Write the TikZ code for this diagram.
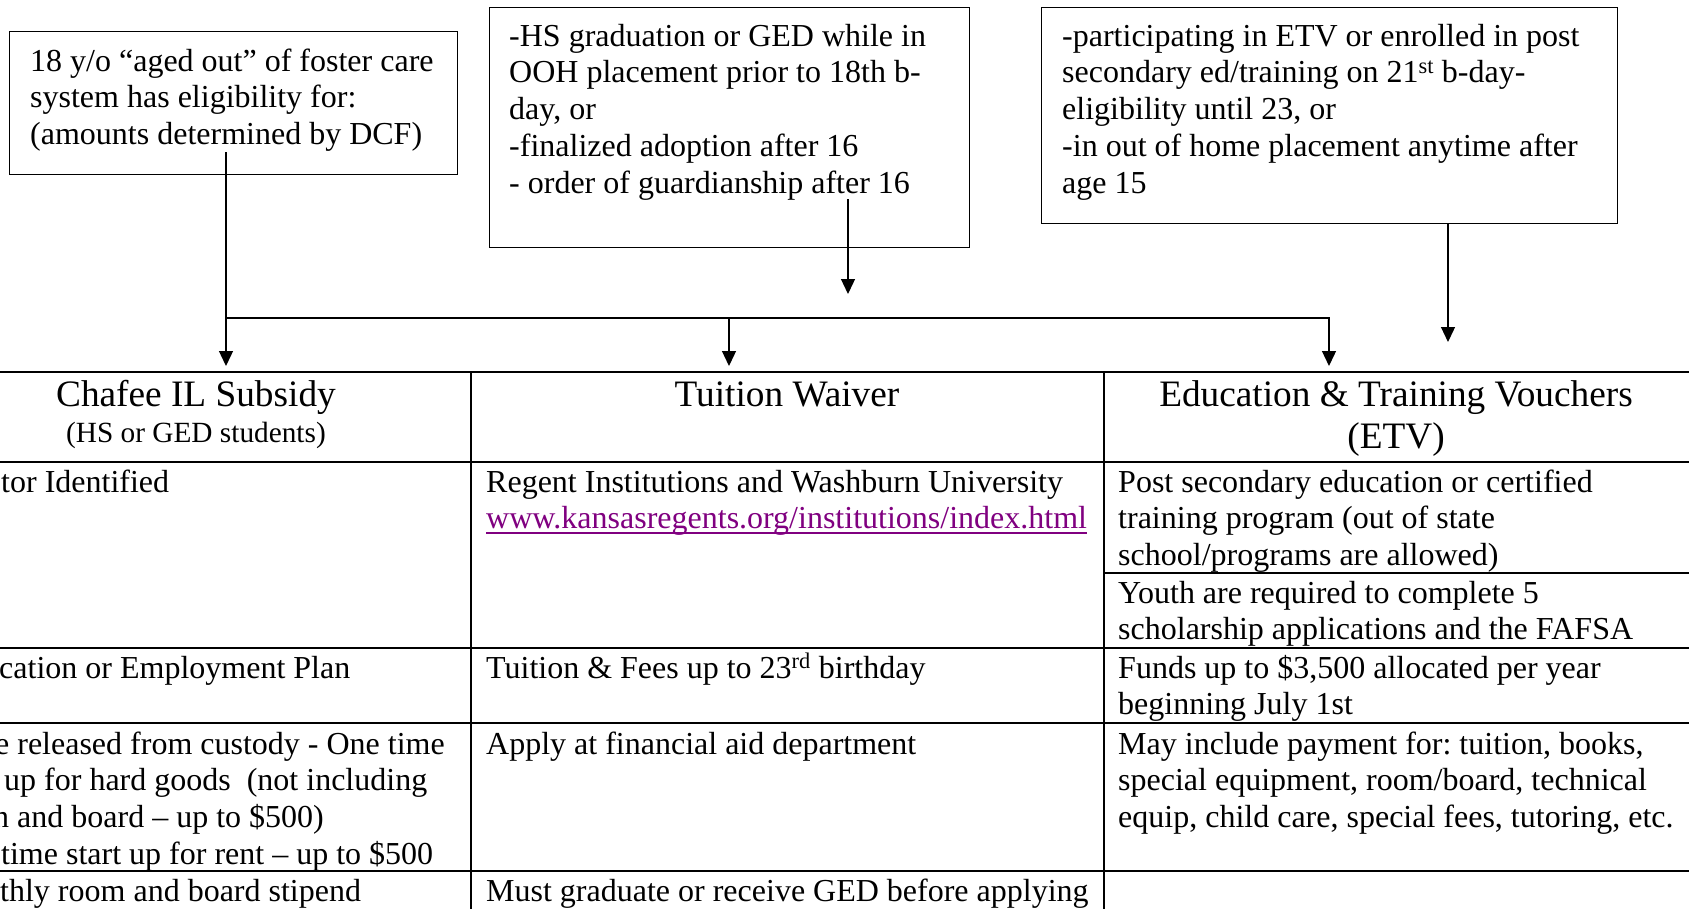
\documentclass[tikz,border=0pt]{standalone}
\usepackage{fontspec}
\setmainfont{Liberation Serif}
\usetikzlibrary{arrows.meta}
\definecolor{linkpurple}{RGB}{128,0,128}
\newcommand{\flowarrow}{-{Triangle[length=15pt,width=14pt]}}
\newcommand{\wordspace}{\spaceskip=.25em\relax\xspaceskip=.25em\relax}
\newcommand{\bodysize}{\fontsize{32}{36.8}\selectfont}
\newcommand{\headsize}{\fontsize{37.3}{42}\selectfont}
\newcommand{\notesize}{\fontsize{29.3}{33.7}\selectfont\wordspace}
\newcommand{\weblink}[1]{\textcolor{linkpurple}{\setbox0=\hbox{#1}\rlap{\rule[-5pt]{\wd0}{2pt}}\box0}}
\tikzset{%
  % Specifications for style of nodes:
            base/.style = {inner sep=0pt, align=left, text width=640pt,
                           anchor=base west, font=\bodysize,
                           execute at begin node=\wordspace},
		boxstyle/.style = {rectangle, draw=black, line width=1.3pt,
                           anchor=north west, inner sep=0pt},
		headstyle/.style = {base, anchor=base, align=center, text width=560pt,
                           font=\headsize},
		rulestyle/.style = {line width=1.7pt},
		arrowstyle/.style = {line width=1.3pt},
}
\begin{document}
\begin{tikzpicture}[x=1pt, y=-1pt]
  \useasboundingbox (0,0) rectangle (1689,908);
  \clip (0,0) rectangle (1689,908);

  % Specification of the eligibility boxes
  \node (elig)	[boxstyle, minimum width=448pt, minimum height=143pt]		at (9,31)		{};
  \node (grad)	[boxstyle, minimum width=480pt, minimum height=240pt]		at (489,7)		{};
  \node (post)	[boxstyle, minimum width=576pt, minimum height=216pt]		at (1041,7)	{};
  \node (elig-text)	[base] at ([shift={(21,40)}]elig.north west)
    {18 y/o “aged out” of foster care\\system has eligibility for:\\(amounts determined by DCF)};
  \node (grad-text)	[base] at ([shift={(20,39)}]grad.north west)
    {-HS graduation or GED while in\\OOH placement prior to 18th b-\\day, or\\-finalized adoption after 16\\- order of guardianship after 16};
  \node (post-text)	[base] at ([shift={(21,39)}]post.north west)
    {-participating in ETV or enrolled in post\\secondary ed/training on 21\textsuperscript{st} b-day-\\eligibility until 23, or\\-in out of home placement anytime after\\age 15};

  % Specification of the table
  \foreach \y in {372,462,648,723,871}
    \draw[rulestyle] (-10,\y) -- (1700,\y);
  \draw[rulestyle] (1104,573) -- (1700,573);
  \foreach \x in {471,1104}
    \draw[rulestyle] (\x,372) -- (\x,920);

  \node (chafee-head)	[headstyle] at (196,406)
    {Chafee IL Subsidy\\[-6pt]{\notesize (HS or GED students)}};
  \node (waiver-head)	[headstyle] at (787,406)	{Tuition Waiver};
  \node (etv-head)		[headstyle] at (1396,406)	{Education \& Training Vouchers\\(ETV)};

  \node (chafee-id)		[base] at (1,492)	{tor Identified};
  \node (chafee-plan)	[base] at (-1,678)	{cation or Employment Plan};
  \node (chafee-startup)	[base] at (0,754)
    {\hspace*{-5pt}e released from custody - One time\\\hspace*{4pt}up for hard goods~ (not including\\\hspace*{-7pt}n and board – up to \$500)\\\hspace*{1pt}time start up for rent – up to \$500};
  \node (chafee-stipend)	[base] at (0,901)	{thly room and board stipend};

  \node (waiver-schools)	[base] at (486,492)
    {Regent Institutions and Washburn University\\\weblink{www.kansasregents.org/institutions/index.html}};
  \node (waiver-fees)	[base] at (486,678)	{Tuition \& Fees up to 23\textsuperscript{rd} birthday};
  \node (waiver-apply)	[base] at (486,754)	{Apply at financial aid department};
  \node (waiver-ged)	[base] at (486,901)	{Must graduate or receive GED before applying};

  \node (etv-program)	[base] at (1118,492)
    {Post secondary education or certified\\training program (out of state\\school/programs are allowed)};
  \node (etv-apps)		[base] at (1118,603)
    {Youth are required to complete 5\\scholarship applications and the FAFSA};
  \node (etv-funds)		[base] at (1118,678)
    {Funds up to \$3,500 allocated per year\\beginning July 1st};
  \node (etv-pay)		[base] at (1118,754)
    {May include payment for: tuition, books,\\special equipment, room/board, technical\\equip, child care, special fees, tutoring, etc.};

  % Specification of lines between boxes and table
  \coordinate (elig-out)	at (226,152);
  \coordinate (fork)		at (226,318);
  \coordinate (chafee-in)	at (226,366);
  \coordinate (waiver-in)	at (729,366);
  \coordinate (etv-in)		at (1329,366);
  \coordinate (grad-out)	at (848,199);
  \coordinate (grad-end)	at (848,294);
  \coordinate (post-end)	at (1448,342);
	\draw[arrowstyle, \flowarrow]	(elig-out) -- 			(chafee-in);
	\draw[arrowstyle, \flowarrow]	(fork) -| 				(etv-in);
	\draw[arrowstyle, \flowarrow]	(fork -| waiver-in) -- 	(waiver-in);
	\draw[arrowstyle, \flowarrow]	(grad-out) -- 			(grad-end);
	\draw[arrowstyle, \flowarrow]	(post.south -| post-end) -- (post-end);
\end{tikzpicture}
\end{document}
